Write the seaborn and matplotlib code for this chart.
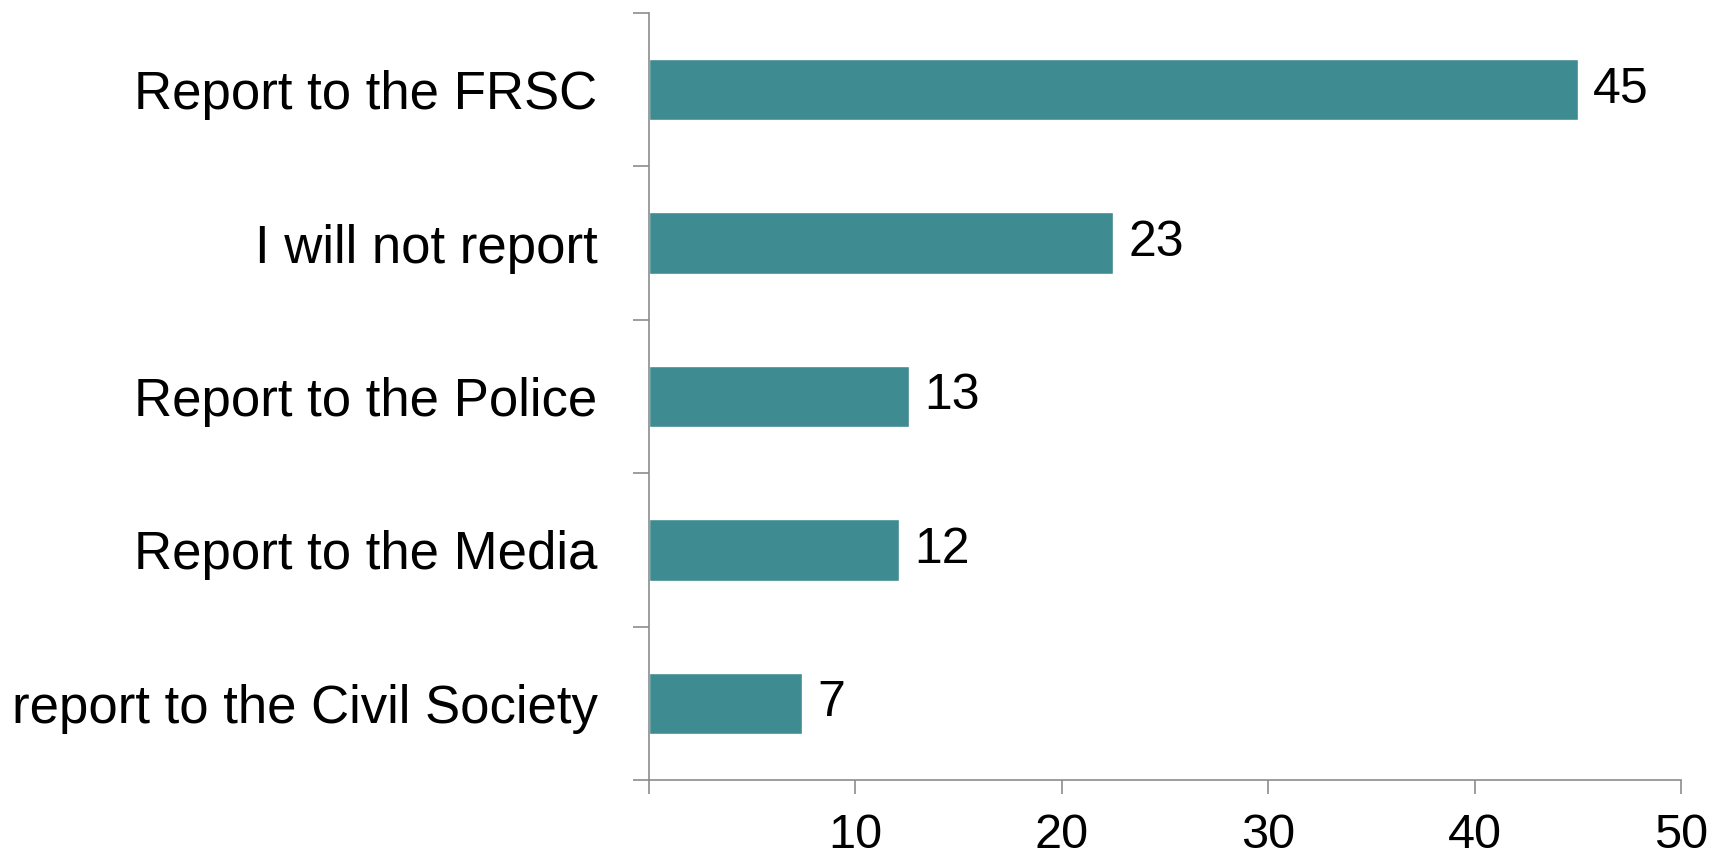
import matplotlib
matplotlib.use("Agg")
import matplotlib.pyplot as plt
import seaborn as sns
import pandas as pd

# data
categories = ["Report to the FRSC", "I will not report", "Report to the Police",
              "Report to the Media", "report to the Civil Society"]
values = [45.0, 22.5, 12.6, 12.1, 7.4]
value_labels = ["45", "23", "13", "12", "7"]
xticks = [0, 10, 20, 30, 40, 50]
xtick_labels = ["", "10", "20", "30", "40", "50"]

sns.set_style("white")
plt.rcParams['font.family'] = ['Liberation Sans', 'DejaVu Sans']
plt.rcParams['text.color'] = 'black'
plt.rcParams['xtick.labelcolor'] = 'black'
plt.rcParams['ytick.labelcolor'] = 'black'

df = pd.DataFrame({'category': categories, 'value': values})

fig = plt.figure(figsize=(17.12, 8.56), dpi=100)
ax = fig.add_axes([0.379, 0.0888, 0.603, 0.896])

sns.barplot(data=df, x='value', y='category', orient='h', color='#3E8B92',
            width=0.4, saturation=1, ax=ax)

ax.bar_label(ax.containers[0], labels=value_labels, padding=11, fontsize=36, color='black')

ax.set_xlim(0, 50)
ax.set_ylim(4.5, -0.5)
ax.set_xticks(xticks)
ax.set_xticklabels(xtick_labels, fontsize=35, color='black')
ax.set_yticks(range(len(categories)))
ax.set_yticklabels(categories, fontsize=38, color='black')
ax.set_yticks([i - 0.5 for i in range(len(categories) + 1)], minor=True)
ax.set_xlabel('')
ax.set_ylabel('')

axis_grey = '#8c8c8c'
sns.despine(ax=ax)
for side in ['left', 'bottom']:
    ax.spines[side].set_color(axis_grey)
    ax.spines[side].set_linewidth(1.2)

ax.tick_params(axis='y', which='major', length=0, pad=37)
ax.tick_params(axis='y', which='minor', length=11.5, width=1.2, color=axis_grey, left=True)
ax.tick_params(axis='x', which='major', length=10, width=1.2, color=axis_grey, pad=14, bottom=True)

plt.savefig('out.png', dpi=100)
